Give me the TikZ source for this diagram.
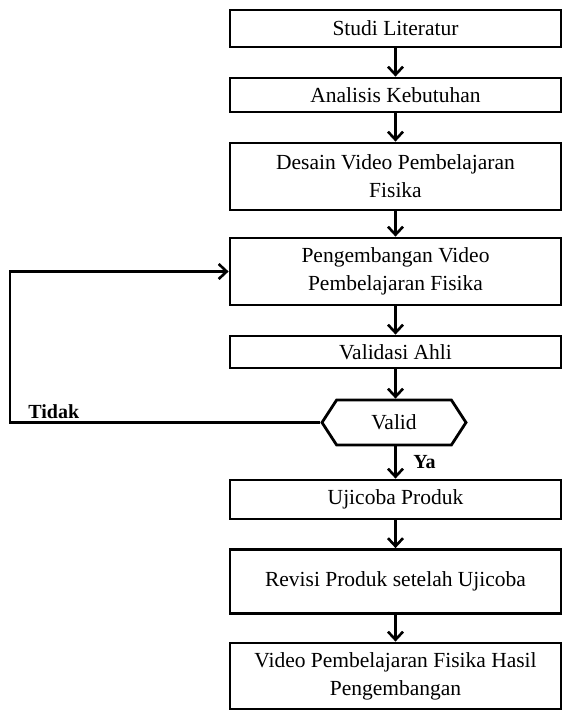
\documentclass[tikz,border=0pt]{standalone}
\usepackage{fontspec}
\setmainfont{Liberation Serif}
\usetikzlibrary{arrows.meta}
\usetikzlibrary{shapes.symbols}

\begin{document}
\begin{tikzpicture}[x=1pt,y=-1pt,
	line width=2.8pt,
	font=\fontsize{21.5}{28}\selectfont,
	stepbox/.style={draw, rectangle, minimum width=331pt, align=center, inner sep=0pt},
	arr/.style={-{Straight Barb[length=8pt,width=15pt,line width=2.6pt]}}]
	\useasboundingbox (0,0) rectangle (563,710);
	\node[stepbox, minimum height=37pt] (studi) at (395.5,28.5) {Studi Literatur};%1
	\node[stepbox, minimum height=34pt] (analisis) at (395.5,95) {Analisis Kebutuhan};%2
	\node[stepbox, minimum height=67pt] (desain) at (395.5,176.5) {Desain Video Pembelajaran\\Fisika};%3
	\node[stepbox, minimum height=67pt] (kembang) at (395.5,271.5) {Pengembangan Video\\Pembelajaran Fisika};%4
	\node[stepbox, minimum height=32pt] (validasi) at (395.5,352) {Validasi Ahli};%5
	\node[draw, signal, signal to=east and west, signal pointer angle=114,
		minimum width=144pt, minimum height=45pt, inner sep=0pt] (valid) at (394,422.5) {Valid};%6
	\node[stepbox, minimum height=39pt] (ujicoba) at (395.5,499.5) {Ujicoba Produk};%7
	\node[stepbox, minimum height=64pt] (revisi) at (395.5,581.5) {Revisi Produk setelah Ujicoba};%8
	\node[stepbox, minimum height=66pt] (hasil) at (395.5,676) {Video Pembelajaran Fisika Hasil\\Pengembangan};%9
	\coordinate (loop) at (10,422.5);
	\draw[arr] (studi) -- (analisis);
	\draw[arr] (analisis) -- (desain);
	\draw[arr] (desain) -- (kembang);
	\draw[arr] (kembang) -- (validasi);
	\draw[arr] (validasi.south) -- (valid.north -| validasi.south);
	\draw[arr] (valid.south -| ujicoba.north) -- (ujicoba.north);
	\draw[arr] (ujicoba) -- (revisi);
	\draw[arr] (revisi) -- (hasil);
	\draw[arr] (valid.west) -- (loop) |- (kembang.west);
	\node[anchor=base west, font=\fontsize{20}{24}\selectfont\bfseries, inner sep=0pt] (tidak) at (27,418) {Tidak};
	\node[anchor=base west, font=\fontsize{20}{24}\selectfont\bfseries, inner sep=0pt] (ya) at (412,468) {Ya};
\end{tikzpicture}
\end{document}
